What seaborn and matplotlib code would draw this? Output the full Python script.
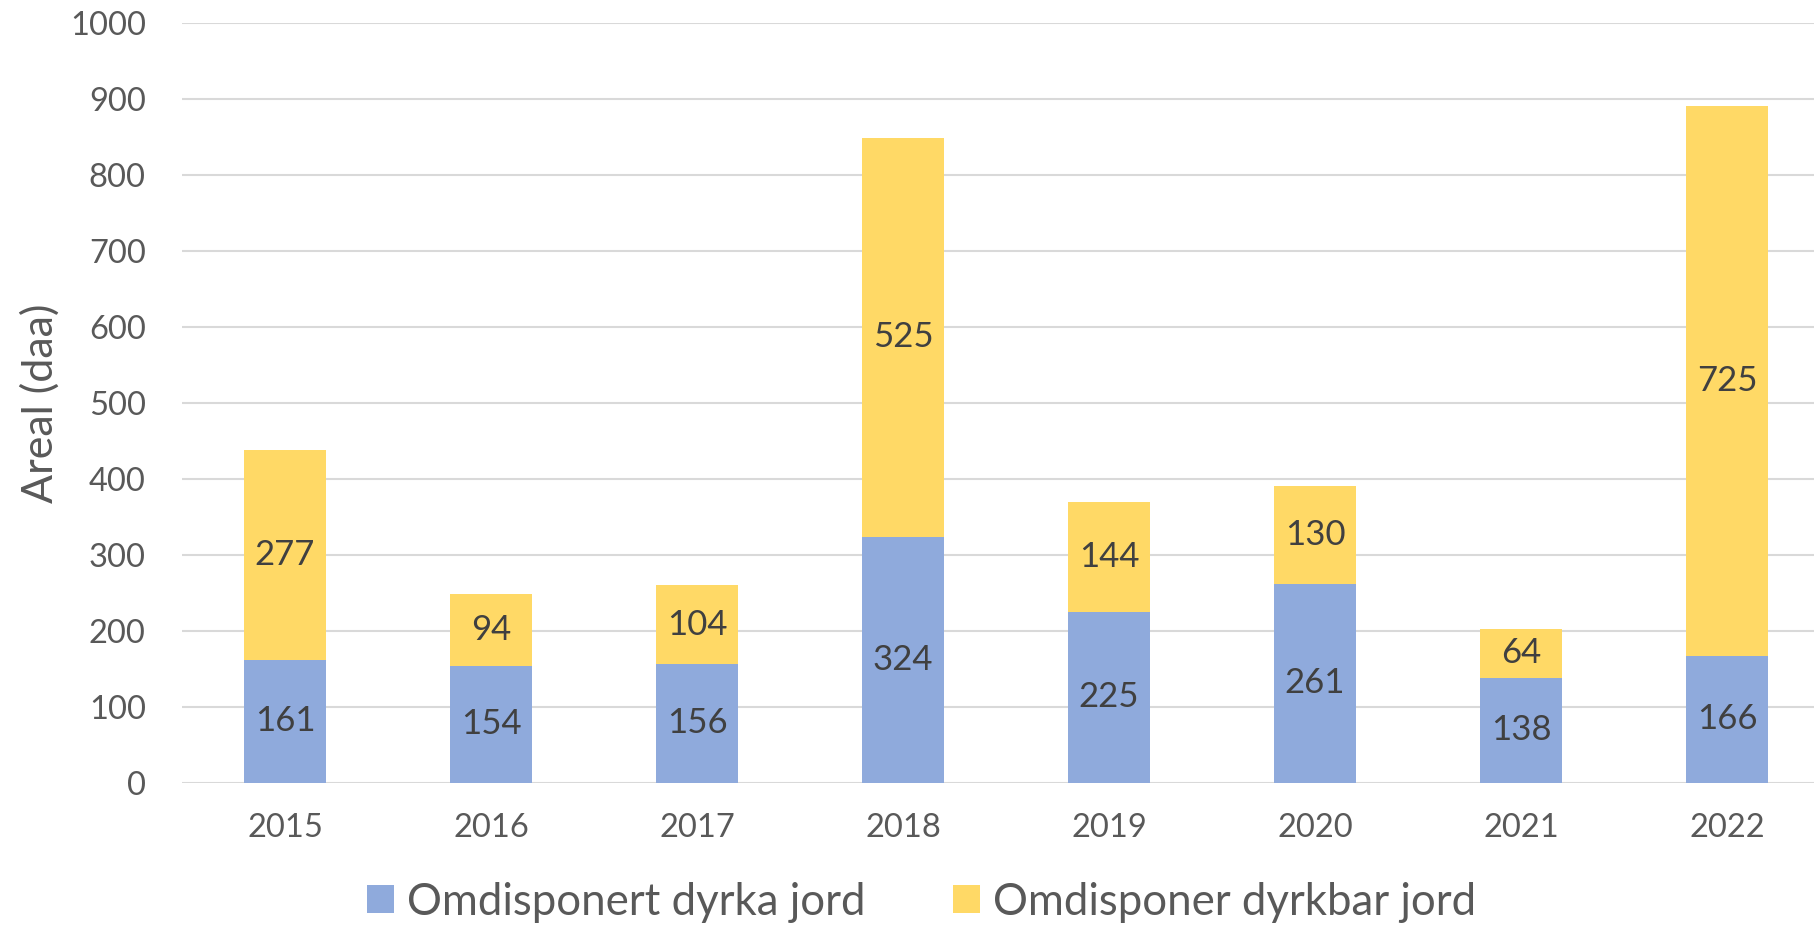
import pandas as pd
import matplotlib
matplotlib.use("Agg")
import matplotlib.pyplot as plt
import seaborn as sns
from matplotlib.patches import Patch

# ---------- data ----------
years = ["2015", "2016", "2017", "2018", "2019", "2020", "2021", "2022"]
dyrka = [161, 154, 156, 324, 225, 261, 138, 166]
dyrkbar = [277, 94, 104, 525, 144, 130, 64, 725]
series_names = ["Omdisponert dyrka jord", "Omdisponer dyrkbar jord"]
y_ticks = [0, 100, 200, 300, 400, 500, 600, 700, 800, 900, 1000]

df = pd.DataFrame({"year": years, "dyrka": dyrka, "dyrkbar": dyrkbar})
df["total"] = df["dyrka"] + df["dyrkbar"]

BLUE = "#8FAADC"
YELLOW = "#FFD966"
GRID = "#D9D9D9"
TICK_COL = "#595959"
LABEL_COL = "#404040"

sns.set_style("white")
plt.rcParams["font.family"] = ["Lato", "DejaVu Sans"]

fig = plt.figure(figsize=(18.14, 9.3), dpi=100)
ax = fig.add_axes([0.1003, 0.1586, 0.9085, 0.8164])

# stacked bars: total (yellow) underneath, blue on top of it
sns.barplot(data=df, x="year", y="total", color=YELLOW, width=0.4,
            saturation=1, linewidth=0, ax=ax, zorder=2)
sns.barplot(data=df, x="year", y="dyrka", color=BLUE, width=0.4,
            saturation=1, linewidth=0, ax=ax, zorder=3)

# data labels
for i, row in df.iterrows():
    ax.text(i, row["dyrka"] / 2, str(row["dyrka"]), ha="center", va="center",
            fontsize=25, color=LABEL_COL, zorder=4)
    ax.text(i, row["dyrka"] + row["dyrkbar"] / 2, str(row["dyrkbar"]),
            ha="center", va="center", fontsize=25, color=LABEL_COL, zorder=4)

ax.set_ylim(0, 1000)
ax.set_xlim(-0.5, len(years) - 0.5)
ax.set_yticks(y_ticks)
ax.yaxis.grid(True, color=GRID, linewidth=1.5, zorder=0)
ax.set_axisbelow(True)
for s in ax.spines.values():
    s.set_visible(False)
ax.axhline(0, color=GRID, linewidth=1.8, zorder=1)

ax.tick_params(axis="y", length=0, pad=26, labelsize=23.5, labelcolor=TICK_COL)
ax.tick_params(axis="x", length=0, pad=22, labelsize=23.5, labelcolor=TICK_COL)
ax.set_xlabel("")
ax.set_ylabel("Areal (daa)", fontsize=31, color=TICK_COL, labelpad=7)

handles = [Patch(facecolor=BLUE, edgecolor="none"),
           Patch(facecolor=YELLOW, edgecolor="none")]
fig.legend(handles, series_names, loc="center", bbox_to_anchor=(0.508, 0.03),
           ncol=2, frameon=False, fontsize=31.5, labelcolor=TICK_COL,
           handlelength=0.62, handleheight=0.62, handletextpad=0.3,
           columnspacing=2.0)

fig.savefig("out.png", dpi=100)
